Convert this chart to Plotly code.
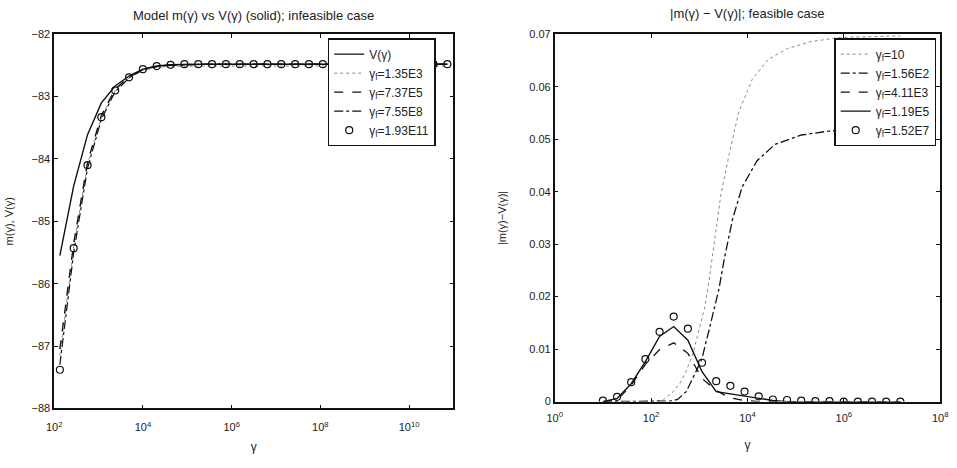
import plotly.graph_objects as go

# ---------------- Left panel data (infeasible case) ----------------
gamma_left = [134, 275, 564, 1156, 2371, 4864, 9977, 20460, 41980, 86100,
              176600, 362000, 743000, 1524000, 3126000, 6412000, 13150000,
              26980000, 55340000, 113500000, 232800000, 477500000, 979500000,
              2009000000, 4121000000, 8453000000, 17340000000, 35560000000,
              72950000000]
V_left = [-85.55, -84.43, -83.61, -83.10, -82.83, -82.67, -82.56, -82.51, -82.49,
          -82.48, -82.48, -82.48, -82.48, -82.48, -82.48, -82.48, -82.48, -82.48,
          -82.48, -82.48, -82.48, -82.48, -82.48, -82.48, -82.48, -82.48, -82.48,
          -82.48, -82.48]
m_1_35E3 = [-87.15, -85.40, -84.08, -83.32, -82.90, -82.70, -82.58, -82.53, -82.52,
            -82.51, -82.51, -82.51, -82.51, -82.51, -82.51, -82.51, -82.51, -82.51,
            -82.51, -82.51, -82.51, -82.51, -82.51, -82.51, -82.51, -82.51, -82.51,
            -82.51, -82.51]
m_7_37E5 = [-87.05, -85.35, -84.05, -83.30, -82.88, -82.68, -82.56, -82.51, -82.49,
            -82.48, -82.48, -82.48, -82.48, -82.48, -82.48, -82.48, -82.48, -82.48,
            -82.48, -82.48, -82.48, -82.48, -82.48, -82.48, -82.48, -82.48, -82.48,
            -82.48, -82.48]
m_7_55E8 = [-87.30, -85.50, -84.15, -83.36, -82.92, -82.70, -82.57, -82.52, -82.50,
            -82.49, -82.48, -82.48, -82.48, -82.48, -82.48, -82.48, -82.48, -82.48,
            -82.48, -82.48, -82.48, -82.48, -82.48, -82.48, -82.48, -82.48, -82.48,
            -82.48, -82.48]
m_1_93E11 = [-87.38, -85.43, -84.10, -83.33, -82.90, -82.69, -82.56, -82.51, -82.49,
             -82.48, -82.48, -82.48, -82.48, -82.48, -82.48, -82.48, -82.48, -82.48,
             -82.48, -82.48, -82.48, -82.48, -82.48, -82.48, -82.48, -82.48, -82.48,
             -82.48, -82.48]

left_names = ["V(γ)", "γ<sub>f</sub>=1.35E3", "γ<sub>f</sub>=7.37E5",
              "γ<sub>f</sub>=7.55E8", "γ<sub>f</sub>=1.93E11"]
left_xticks = [1e2, 1e4, 1e6, 1e8, 1e10]
left_xtext = ["10<sup>2</sup>", "10<sup>4</sup>", "10<sup>6</sup>", "10<sup>8</sup>", "10<sup>10</sup>"]
left_yticks = [-88, -87, -86, -85, -84, -83, -82]
left_ytext = ["−88", "−87", "−86", "−85", "−84", "−83", "−82"]

# ---------------- Right panel data (feasible case) ----------------
gamma_right = [10, 19.7, 38.7, 76.2, 150, 295, 581, 1143, 2249, 4426, 8710, 17140,
               33730, 66370, 130600, 257000, 505800, 995000, 1959000, 3855000,
               7586000, 14930000]
d_4_11E3 = [0.0, 0.0003, 0.0031, 0.0071, 0.0099, 0.0112, 0.0092, 0.0044, 0.0021,
            0.0007, 0.0002, 0.0, 0.0, 0.0, 0.0, 0.0, 0.0, 0.0, 0.0, 0.0, 0.0, 0.0]
d_1_19E5 = [0.0, 0.0006, 0.0034, 0.0076, 0.0124, 0.0143, 0.0117, 0.0057, 0.0019,
            0.0015, 0.0011, 0.0006, 0.0002, 0.0, 0.0, 0.0, 0.0, 0.0, 0.0, 0.0, 0.0, 0.0]
d_1_52E7 = [0.0002, 0.0009, 0.0037, 0.0081, 0.0133, 0.0162, 0.0139, 0.0074, 0.0039,
            0.0030, 0.0019, 0.0010, 0.0004, 0.0003, 0.0002, 0.0001, 0.0001, 0.0,
            0.0, 0.0, 0.0, 0.0]

gamma_g10 = [10, 31.6, 100, 178, 288, 398, 537, 741, 1023, 1288, 1514, 2042, 2818,
             4169, 6607, 12590, 26920, 69180, 208900, 851100, 3981000, 14790000]
d_g10 = [0.0, 0.0, 0.0, 0.0003, 0.0019, 0.0035, 0.0058, 0.0092, 0.0140, 0.0178,
         0.0215, 0.0300, 0.0395, 0.0471, 0.0552, 0.0614, 0.0652, 0.0673, 0.0686,
         0.0694, 0.0696, 0.0697]

gamma_156 = [10, 100, 251, 355, 537, 794, 1122, 1585, 1995, 2570, 3311, 4898, 7762,
             15850, 37150, 131800, 537000, 3162000, 14790000]
d_156 = [0.0, 0.0, 0.0001, 0.0004, 0.0019, 0.0051, 0.0080, 0.0135, 0.0175, 0.0215,
         0.0272, 0.0347, 0.0409, 0.0459, 0.0490, 0.0508, 0.0516, 0.0518, 0.0518]

right_names = ["γ<sub>f</sub>=10", "γ<sub>f</sub>=1.56E2", "γ<sub>f</sub>=4.11E3",
               "γ<sub>f</sub>=1.19E5", "γ<sub>f</sub>=1.52E7"]
right_xticks = [1e0, 1e2, 1e4, 1e6, 1e8]
right_xtext = ["10<sup>0</sup>", "10<sup>2</sup>", "10<sup>4</sup>", "10<sup>6</sup>", "10<sup>8</sup>"]
right_yticks = [0, 0.01, 0.02, 0.03, 0.04, 0.05, 0.06, 0.07]
right_ytext = ["0", "0.01", "0.02", "0.03", "0.04", "0.05", "0.06", "0.07"]

FONT = "Liberation Sans, Arial, sans-serif"
BLACK = "#111111"
GREY = "#8a8a8a"
TXT = "#222222"

fig = go.Figure()

# Left traces
fig.add_trace(go.Scatter(x=gamma_left, y=V_left, mode="lines", name=left_names[0],
                         line=dict(color=BLACK, width=1.4), xaxis="x", yaxis="y", legend="legend"))
fig.add_trace(go.Scatter(x=gamma_left, y=m_1_35E3, mode="lines", name=left_names[1],
                         line=dict(color=GREY, width=1, dash="dot"), xaxis="x", yaxis="y", legend="legend"))
fig.add_trace(go.Scatter(x=gamma_left, y=m_7_37E5, mode="lines", name=left_names[2],
                         line=dict(color=BLACK, width=1.3, dash="dash"), xaxis="x", yaxis="y", legend="legend"))
fig.add_trace(go.Scatter(x=gamma_left, y=m_7_55E8, mode="lines", name=left_names[3],
                         line=dict(color=BLACK, width=1.2, dash="dashdot"), xaxis="x", yaxis="y", legend="legend"))
fig.add_trace(go.Scatter(x=gamma_left, y=m_1_93E11, mode="markers", name=left_names[4],
                         marker=dict(symbol="circle-open", size=7, color=BLACK, line=dict(width=1.2)),
                         xaxis="x", yaxis="y", legend="legend"))

# Right traces
fig.add_trace(go.Scatter(x=gamma_g10, y=d_g10, mode="lines", name=right_names[0],
                         line=dict(color=GREY, width=1, dash="dot"), xaxis="x2", yaxis="y2", legend="legend2"))
fig.add_trace(go.Scatter(x=gamma_156, y=d_156, mode="lines", name=right_names[1],
                         line=dict(color=BLACK, width=1.3, dash="dashdot"), xaxis="x2", yaxis="y2", legend="legend2"))
fig.add_trace(go.Scatter(x=gamma_right, y=d_4_11E3, mode="lines", name=right_names[2],
                         line=dict(color=BLACK, width=1.3, dash="dash"), xaxis="x2", yaxis="y2", legend="legend2"))
fig.add_trace(go.Scatter(x=gamma_right, y=d_1_19E5, mode="lines", name=right_names[3],
                         line=dict(color=BLACK, width=1.4), xaxis="x2", yaxis="y2", legend="legend2"))
fig.add_trace(go.Scatter(x=gamma_right, y=d_1_52E7, mode="markers", name=right_names[4],
                         marker=dict(symbol="circle-open", size=7, color=BLACK, line=dict(width=1.2)),
                         xaxis="x2", yaxis="y2", legend="legend2"))

W, H = 957, 468
axis_common = dict(showline=True, linecolor=BLACK, linewidth=1.5, mirror="ticks",
                   ticks="inside", ticklen=4, tickcolor=BLACK, tickwidth=1,
                   showgrid=False, zeroline=False,
                   tickfont=dict(family=FONT, size=11, color=TXT))

legend_common = dict(bgcolor="white", bordercolor=BLACK, borderwidth=1.5,
                     font=dict(family=FONT, size=12, color=TXT),
                     itemwidth=30, tracegroupgap=0, yanchor="top", xanchor="right")

fig.update_layout(
    width=W, height=H,
    margin=dict(l=0, r=0, t=0, b=0),
    paper_bgcolor="white", plot_bgcolor="white",
    font=dict(family=FONT, size=11, color=TXT),
    xaxis=dict(type="log", range=[2, 11], domain=[47 / W, 453 / W], anchor="y",
               tickvals=left_xticks, ticktext=left_xtext, ticklabelstandoff=8,
               title=dict(text="γ", font=dict(family=FONT, size=12), standoff=10),
               **axis_common),
    yaxis=dict(range=[-88, -82], domain=[1 - 413 / H, 1 - 29 / H], anchor="x",
               tickvals=left_yticks, ticktext=left_ytext,
               title=dict(text="m(γ), V(γ)", font=dict(family=FONT, size=11), standoff=16),
               **axis_common),
    xaxis2=dict(type="log", range=[0, 8], domain=[556 / W, 948 / W], anchor="y2",
                tickvals=right_xticks, ticktext=right_xtext, ticklabelstandoff=5,
                title=dict(text="γ", font=dict(family=FONT, size=12), standoff=18),
                **axis_common),
    yaxis2=dict(range=[0, 0.07], domain=[1 - 406 / H, 1 - 29 / H], anchor="x2",
                tickvals=right_yticks, ticktext=right_ytext,
                title=dict(text="|m(γ)−V(γ)|", font=dict(family=FONT, size=11), standoff=20),
                **axis_common),
    legend=dict(x=435 / W, y=1 - 33 / H, **legend_common),
    legend2=dict(x=944 / W, y=1 - 33 / H, **legend_common),
    showlegend=True,
    annotations=[
        dict(text="Model m(γ) vs V(γ) (solid); infeasible case", xref="paper", yref="paper",
             x=250 / W, y=1 - 10 / H, xanchor="center", yanchor="middle", showarrow=False,
             font=dict(family=FONT, size=13, color=TXT)),
        dict(text="|m(γ) − V(γ)|; feasible case", xref="paper", yref="paper",
             x=752 / W, y=1 - 8 / H, xanchor="center", yanchor="middle", showarrow=False,
             font=dict(family=FONT, size=13, color=TXT)),
    ],
)

fig.write_html("out.html")
